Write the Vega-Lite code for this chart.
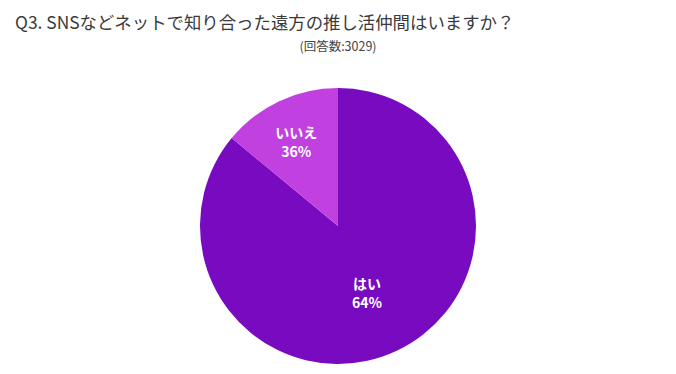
{
  "$schema": "https://vega.github.io/schema/vega-lite/v6.json",
  "background": "white",
  "padding": {"left": 0, "right": 0, "top": 15, "bottom": 0},
  "title": {
    "text": "Q3. SNSなどネットで知り合った遠方の推し活仲間はいますか？",
    "anchor": "start",
    "dx": 15,
    "offset": 8,
    "font": "Noto Sans CJK JP",
    "fontSize": 17.4,
    "fontWeight": "normal",
    "color": "#3a3a3a"
  },
  "data": {
    "values": [
      {"answer": "はい", "share": 86, "label": "はい\n64%"},
      {"answer": "いいえ", "share": 14, "label": "いいえ\n36%"}
    ]
  },
  "vconcat": [
    {
      "title": {
        "text": "(回答数:3029)",
        "anchor": "middle",
        "offset": 28,
        "font": "Noto Sans CJK JP",
        "fontSize": 12.5,
        "fontWeight": "normal",
        "color": "#444444"
      },
      "width": 676,
      "height": 290,
      "layer": [
        {
          "mark": {"type": "arc", "outerRadius": 138},
          "encoding": {
            "theta": {"field": "share", "type": "quantitative", "stack": true},
            "order": {"field": "answer", "sort": "descending"},
            "color": {
              "field": "answer",
              "type": "nominal",
              "scale": {"domain": ["はい", "いいえ"], "range": ["#780bc0", "#c040e0"]},
              "legend": null
            }
          }
        },
        {
          "mark": {"type": "text", "radius": 98, "dy": -3, "font": "Noto Sans CJK JP", "fontSize": 14, "fontWeight": "bold", "color": "white", "lineBreak": "\n", "lineHeight": 19, "baseline": "middle"},
          "encoding": {
            "theta": {"field": "share", "type": "quantitative", "stack": true},
            "order": {"field": "answer", "sort": "descending"},
            "text": {"condition": {"test": "datum.answer === 'いいえ'", "field": "label"}, "value": ""}
          }
        },
        {
          "transform": [{"filter": "datum.answer === 'はい'"}],
          "mark": {"type": "text", "radius": 68, "dy": -3, "font": "Noto Sans CJK JP", "fontSize": 14, "fontWeight": "bold", "color": "white", "lineBreak": "\n", "lineHeight": 19, "baseline": "middle"},
          "encoding": {
            "theta": {"field": "share", "type": "quantitative", "stack": true},
            "text": {"field": "label"}
          }
        }
      ]
    }
  ],
  "config": {"view": {"stroke": null}}
}
